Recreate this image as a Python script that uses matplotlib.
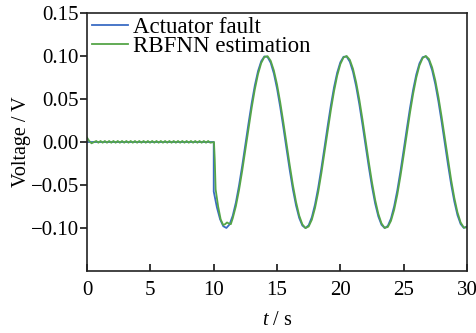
import numpy as np
import matplotlib
matplotlib.use("Agg")
import matplotlib.pyplot as plt

# ---- data ----
# Actuator fault: zero until t = 10 s, then a sinusoidal fault
fault_t_head = [0.0, 10.0, 10.0]
fault_v_head = [0.0, 0.0, -0.0575]
fault_grid_start, fault_grid_stop, fault_grid_step = 10.25, 30.0, 0.25
fault_v_tail = [
    -0.0759, -0.0897, -0.0978, -0.0999, -0.0958, -0.0857, -0.0703, -0.0505,
    -0.0276, -0.0029, 0.0219, 0.0454, 0.0660, 0.0825, 0.0939, 0.0995,
    0.0989, 0.0921, 0.0796, 0.0622, 0.0409, 0.0170, -0.0079, -0.0323,
    -0.0548, -0.0737, -0.0882, -0.0971, -0.1000, -0.0967, -0.0874, -0.0726,
    -0.0533, -0.0307, -0.0062, 0.0187, 0.0424, 0.0635, 0.0806, 0.0927,
    0.0991, 0.0993, 0.0933, 0.0816, 0.0647, 0.0439, 0.0202, -0.0046,
    -0.0292, -0.0520, -0.0715, -0.0865, -0.0962, -0.1000, -0.0975, -0.0889,
    -0.0748, -0.0561, -0.0338, -0.0095, 0.0154, 0.0394, 0.0609, 0.0786,
    0.0915, 0.0986, 0.0996, 0.0945, 0.0834, 0.0672, 0.0468, 0.0235,
    -0.0013, -0.0260, -0.0491, -0.0690, -0.0849, -0.0953, -0.0998, -0.0982,
]

# RBFNN estimation: small ripple before the fault, then tracks with a slight lag
est_t_start = [0.0, 0.15, 0.35, 0.55]
est_v_start = [0.005, 0.0015, -0.0015, 0.0]
est_ripple_start, est_ripple_step = 0.72, 0.17
est_v_ripple = [
    0.0012, -0.0008, 0.0012, -0.0008, 0.0012, -0.0008, 0.0012, -0.0008,
    0.0012, -0.0008, 0.0012, -0.0008, 0.0012, -0.0008, 0.0012, -0.0008,
    0.0012, -0.0008, 0.0012, -0.0008, 0.0012, -0.0008, 0.0012, -0.0008,
    0.0012, -0.0008, 0.0012, -0.0008, 0.0012, -0.0008, 0.0012, -0.0008,
    0.0012, -0.0008, 0.0012, -0.0008, 0.0012, -0.0008, 0.0012, -0.0008,
    0.0012, -0.0008, 0.0012, -0.0008, 0.0012, -0.0008, 0.0012, -0.0008,
    0.0012, -0.0008, 0.0012, -0.0008, 0.0012, -0.0008,
]
est_t_jump = [10.02, 10.08, 10.15, 10.35, 10.55, 10.75, 10.9, 11.05, 11.2, 11.35]
est_v_jump = [0.0, -0.020, -0.055, -0.075, -0.090, -0.0965, -0.0955, -0.0935, -0.0948, -0.0955]
est_grid_start, est_grid_step = 11.5, 0.25
est_v_tail = [
    -0.0888, -0.0746, -0.0557, -0.0334, -0.0089, 0.0160, 0.0400, 0.0615,
    0.0791, 0.0918, 0.0989, 0.0998, 0.0944, 0.0832, 0.0669, 0.0463,
    0.0229, -0.0019, -0.0266, -0.0498, -0.0696, -0.0854, -0.0957, -0.1000,
    -0.0982, -0.0903, -0.0767, -0.0584, -0.0364, -0.0122, 0.0128, 0.0370,
    0.0589, 0.0771, 0.0905, 0.0983, 0.1000, 0.0955, 0.0851, 0.0693,
    0.0493, 0.0261, 0.0014, -0.0235, -0.0469, -0.0673, -0.0835, -0.0946,
    -0.0998, -0.0988, -0.0916, -0.0788, -0.0611, -0.0394, -0.0155, 0.0095,
    0.0339, 0.0561, 0.0749, 0.0891, 0.0976, 0.1000, 0.0965, 0.0867,
    0.0716, 0.0521, 0.0293, 0.0047, -0.0202, -0.0439, -0.0647, -0.0817,
    -0.0935, -0.0994, -0.0993,
]

series_labels = ["Actuator fault", "RBFNN estimation"]
x_ticks = [0, 5, 10, 15, 20, 25, 30]
y_ticks = [-0.10, -0.05, 0.00, 0.05, 0.10, 0.15]

# ---- assemble sample times ----
fault_t = np.concatenate([fault_t_head,
                          fault_grid_start + fault_grid_step * np.arange(len(fault_v_tail))])
fault_v = np.concatenate([fault_v_head, fault_v_tail])
est_t = np.concatenate([est_t_start,
                        est_ripple_start + est_ripple_step * np.arange(len(est_v_ripple)),
                        est_t_jump,
                        est_grid_start + est_grid_step * np.arange(len(est_v_tail))])
est_v = np.concatenate([est_v_start, est_v_ripple, est_v_jump, est_v_tail])

# ---- plot ----
plt.rcParams['font.family'] = ['Liberation Serif', 'DejaVu Serif']
plt.rcParams['mathtext.fontset'] = 'custom'
plt.rcParams['mathtext.it'] = 'Liberation Serif:italic'
plt.rcParams['mathtext.rm'] = 'Liberation Serif'

fig = plt.figure(figsize=(4.76, 3.33), dpi=100)
ax = fig.add_axes([0.183, 0.186, 0.798, 0.775])

ax.plot(fault_t, fault_v, color='#3a6cc4', lw=1.3, label=series_labels[0])
ax.plot(est_t, est_v, color='#55a548', lw=1.3, label=series_labels[1])

ax.set_xlim(0, 30)
ax.set_ylim(-0.15, 0.15)
ax.set_xticks(x_ticks)
ax.set_xticklabels([str(v) for v in x_ticks])
ax.set_yticks(y_ticks)
ax.set_yticklabels([f"{v:.2f}".replace('-', '\u2212') for v in y_ticks])

for s in ax.spines.values():
    s.set_linewidth(1.2)
    s.set_color('#222222')

ax.tick_params(axis='x', direction='in', length=5, width=1.1, pad=7,
               labelsize=15, top=False)
ax.tick_params(axis='y', direction='out', length=5, width=1.1, pad=1,
               labelsize=15, right=False)

ax.set_xlabel(r'$t$ / s', fontsize=14.5, labelpad=8)
ax.set_ylabel('Voltage / V', fontsize=14.5, labelpad=0)

leg = ax.legend(loc='upper left', bbox_to_anchor=(0.012, 0.985),
                frameon=False, fontsize=16.5,
                handlelength=1.57, handletextpad=0.22, borderaxespad=0.0,
                borderpad=0.0, labelspacing=-0.1)

fig.savefig('out.png', dpi=100)
